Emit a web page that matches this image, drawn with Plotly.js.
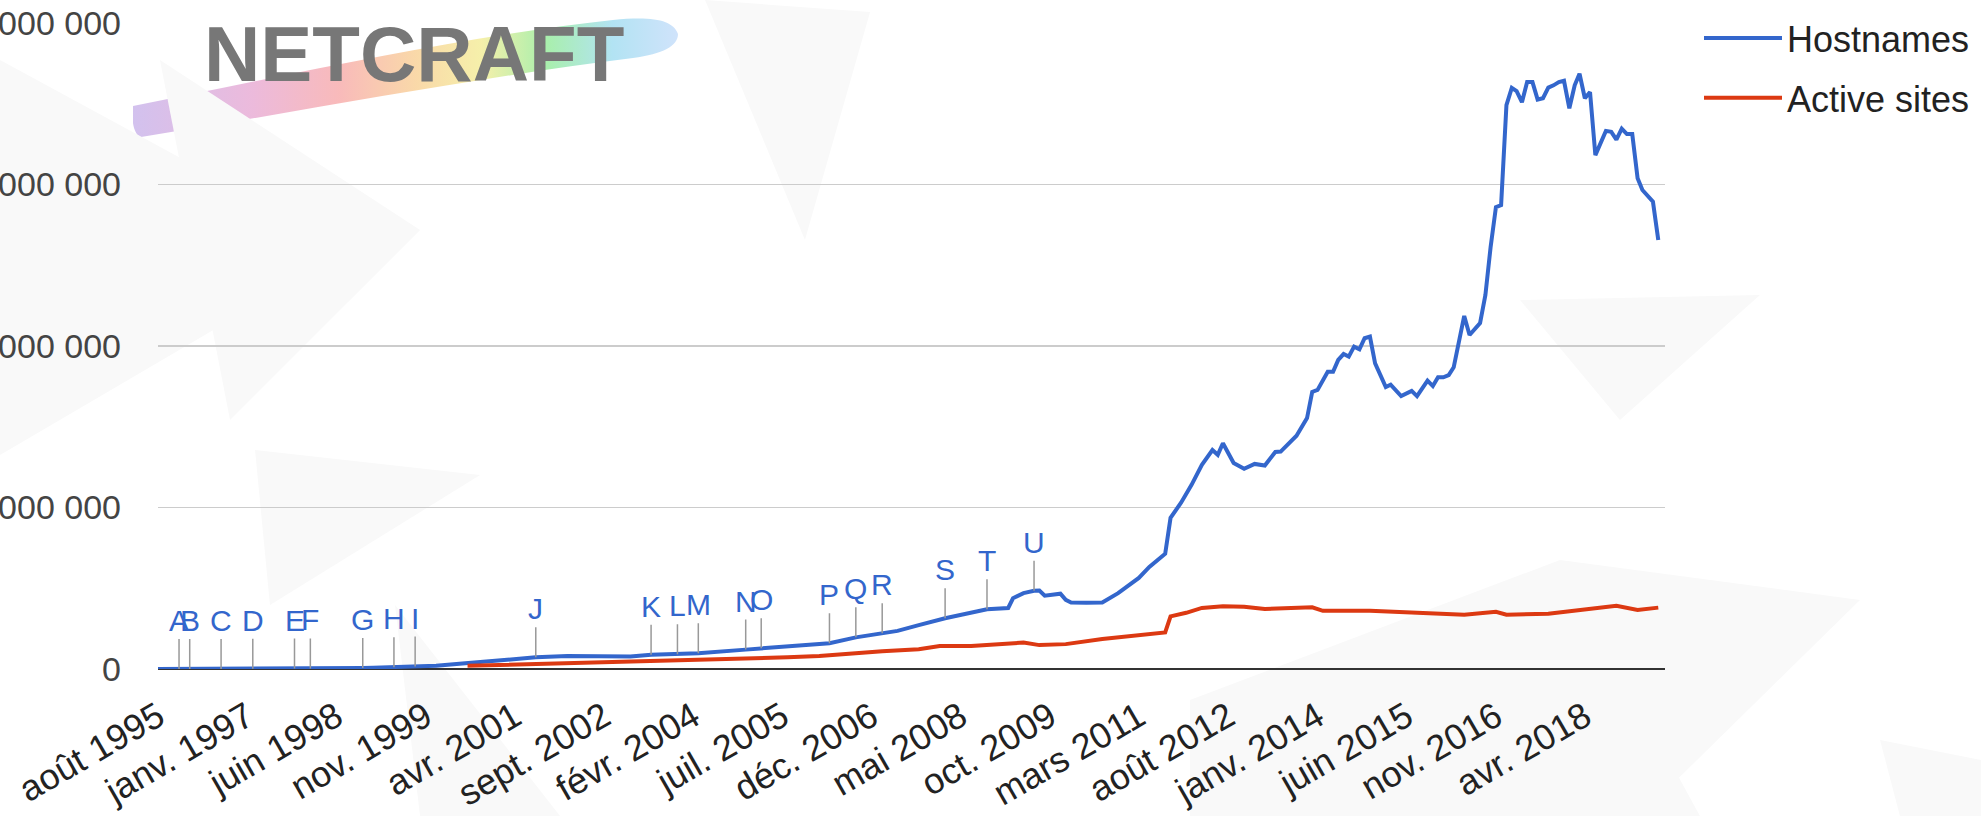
<!DOCTYPE html>
<html>
<head>
<meta charset="utf-8">
<script src="https://cdn.plot.ly/plotly-3.0.1.min.js"></script>
<style>
  html, body { margin: 0; padding: 0; background: #ffffff; }
  #chart { width: 1981px; height: 816px; }
</style>
</head>
<body>
<div id="chart"></div>
<script>
// ---------- DATA (values in millions) ----------
const hostDates = [
  '1995-08-01','1995-12-01','1996-01-01','1996-02-01','1996-08-01','1997-02-01','1997-08-01','1997-10-01',
  '1998-01-01','1998-08-01','1998-11-01','1999-01-01','1999-05-01','1999-08-01','1999-09-01','2000-01-01',
  '2000-06-01','2000-08-01','2001-02-01','2001-08-01','2002-02-01','2002-08-01','2003-02-01','2003-06-01',
  '2003-11-01','2004-03-01','2004-12-01','2005-03-01','2005-08-01','2006-02-01','2006-04-01','2006-09-01',
  '2007-02-01','2007-05-01','2007-09-01','2008-02-01','2008-10-01','2009-02-01','2009-03-01','2009-05-01',
  '2009-07-01','2009-08-01','2009-09-01','2009-11-01','2009-12-01','2010-01-01','2010-02-01','2010-05-01',
  '2010-08-01','2010-11-01','2011-01-01','2011-03-01','2011-05-01','2011-07-01','2011-08-01','2011-09-01',
  '2011-11-01','2012-01-01','2012-03-01','2012-05-01','2012-06-01','2012-07-01','2012-09-01','2012-11-01',
  '2013-01-01','2013-03-01','2013-05-01','2013-06-01','2013-09-01','2013-11-01','2013-12-01','2014-01-01',
  '2014-03-01','2014-04-01','2014-05-01','2014-06-01','2014-07-01','2014-08-01','2014-09-01','2014-10-01',
  '2014-11-01','2014-12-01','2015-02-01','2015-03-01','2015-05-01','2015-07-01','2015-08-01','2015-10-01',
  '2015-11-01','2015-12-01','2016-01-01','2016-02-01','2016-03-01','2016-05-01','2016-06-01','2016-08-01',
  '2016-09-01','2016-10-01','2016-11-01','2016-12-01','2017-01-01','2017-02-01','2017-03-01','2017-04-01',
  '2017-05-01','2017-06-01','2017-07-01','2017-08-01','2017-09-01','2017-10-01','2017-11-01','2017-12-01',
  '2018-01-01','2018-02-01','2018-03-01','2018-04-01','2018-05-01','2018-06-01','2018-07-01','2018-08-01',
  '2018-09-01','2018-10-01','2018-11-01','2018-12-01','2019-01-01','2019-02-01','2019-03-01','2019-04-01',
  '2019-05-01','2019-06-01'
];
const hostValues = [
  0.02, 0.07, 0.1, 0.15, 0.3, 0.7, 1.3, 1.4,
  1.8, 2.6, 3.3, 4.1, 5.5, 7, 7.5, 10,
  17, 20, 28, 36, 40, 41, 39, 44,
  46, 49, 60, 64, 72, 78, 80, 98,
  111, 118, 136, 157, 185, 189, 219, 235,
  242, 243, 227, 230, 233, 214, 206, 205,
  206, 235, 258, 282, 316, 344, 357, 468,
  515, 570, 632, 678, 663, 699, 638, 620,
  635, 630, 672, 673, 722, 777, 858, 864,
  920, 920, 957, 975, 967, 998, 990, 1024,
  1029, 946, 873, 880, 845, 861, 845, 893,
  876, 903, 903, 910, 934, 1093, 1034, 1071,
  1158, 1306, 1430, 1436, 1746, 1799, 1789, 1755,
  1817, 1817, 1763, 1767, 1800, 1807, 1817, 1821,
  1736, 1807, 1843, 1767, 1786, 1591, 1632, 1666,
  1663, 1639, 1673, 1656, 1656, 1519, 1483, 1464,
  1447, 1328
];
const activeDates = [
  '2000-07-01','2001-02-01','2001-08-01','2002-08-01','2003-02-01','2003-08-01','2004-08-01','2005-08-01',
  '2006-02-01','2006-09-01','2007-02-01','2007-09-01','2008-01-01','2008-07-01','2008-12-01','2009-05-01',
  '2009-08-01','2010-01-01','2010-08-01','2011-02-01','2011-08-01','2011-09-01','2011-12-01','2012-03-01',
  '2012-07-01','2012-11-01','2013-03-01','2013-12-01','2014-02-01','2014-11-01','2015-08-01','2016-05-01',
  '2016-11-01','2017-01-01','2017-09-01','2018-03-01','2018-08-01','2018-10-01','2019-02-01','2019-06-01'
];
const activeValues = [
  10, 13, 16, 19, 21, 24, 30, 36,
  40, 49, 55, 61, 71, 71, 77, 82,
  74, 77, 93, 104, 113, 163, 174, 189,
  194, 193, 186, 191, 180, 180, 173, 168,
  177, 168, 171, 182, 190, 196, 183, 190
];
const seriesNames = ['Hostnames', 'Active sites'];
const milestoneLetters = ['A','B','C','D','E','F','G','H','I','J','K','L','M','N','O','P','Q','R','S','T','U'];
const milestoneDates = [
  '1995-12-01','1996-02-01','1996-08-01','1997-02-01','1997-10-01','1998-01-01','1998-11-01','1999-05-01',
  '1999-09-01','2001-08-01','2003-06-01','2003-11-01','2004-03-01','2004-12-01','2005-03-01','2006-04-01',
  '2006-09-01','2007-02-01','2008-02-01','2008-10-01','2009-07-01'
];
const xTickDates = [
  '1995-08-01','1997-01-01','1998-06-01','1999-11-01','2001-04-01','2002-09-01','2004-02-01','2005-07-01',
  '2006-12-01','2008-05-01','2009-10-01','2011-03-01','2012-08-01','2014-01-01','2015-06-01','2016-11-01','2018-04-01'
];
const xTickLabels = [
  'août 1995','janv. 1997','juin 1998','nov. 1999','avr. 2001','sept. 2002','févr. 2004','juil. 2005',
  'déc. 2006','mai 2008','oct. 2009','mars 2011','août 2012','janv. 2014','juin 2015','nov. 2016','avr. 2018'
];
const yTickValues = [0, 500000000, 1000000000, 1500000000, 2000000000];

// ---------- LAYOUT HELPERS ----------
const FONT = 'Liberation Sans, Arial, sans-serif';
const M = {l: 158, r: 316, t: 23, b: 147, autoexpand: false};
const W = 1981, H = 816;
const PW = W - M.l - M.r, PH = H - M.t - M.b;
const px = x => (x - M.l) / PW;            // pixel -> paper x
const py = y => (H - M.b - y) / PH;        // pixel -> paper y

function polyPath(pts) {
  return 'M' + pts.map(p => px(p[0]).toFixed(4) + ',' + py(p[1]).toFixed(4)).join('L') + 'Z';
}
// faint watermark polygons (decoration)
const bgPolys = [
  [[0,60],[350,250],[0,455]],
  [[160,60],[420,230],[230,420]],
  [[705,0],[870,12],[805,240]],
  [[255,450],[480,475],[270,605]],
  [[395,605],[560,816],[420,816]],
  [[1190,700],[1560,560],[1700,816],[1190,816]],
  [[1560,560],[1860,600],[1640,816]],
  [[1520,300],[1760,295],[1620,420]],
  [[1880,740],[1981,760],[1981,816],[1900,816]]
];
const shapes = bgPolys.map(p => ({
  type: 'path', xref: 'paper', yref: 'paper', path: polyPath(p),
  fillcolor: '#f9f9f9', line: {width: 0}, layer: 'below'
}));

// rainbow brush of the logo
const brushSvg = '<svg xmlns="http://www.w3.org/2000/svg" width="545" height="125" viewBox="0 0 545 125">' +
  '<defs><linearGradient id="g" x1="0" y1="0" x2="1" y2="0">' +
  '<stop offset="0" stop-color="#c7b2ea"/><stop offset="0.22" stop-color="#e7a9d3"/>' +
  '<stop offset="0.38" stop-color="#f7a9a9"/><stop offset="0.52" stop-color="#f8cf93"/>' +
  '<stop offset="0.64" stop-color="#f3ec95"/><stop offset="0.76" stop-color="#93eb98"/>' +
  '<stop offset="0.88" stop-color="#9fdcf0"/><stop offset="1" stop-color="#c4dcfa"/></linearGradient></defs>' +
  '<path d="M0,92 C150,62 330,22 480,6 C520,2 540,6 545,20 C545,32 530,40 500,44 C340,64 170,97 8,123 C0,121 -2,102 0,92 Z" fill="url(#g)" opacity="0.8"/>' +
  '</svg>';
const brushUri = 'data:image/svg+xml;charset=utf-8,' + encodeURIComponent(brushSvg);

// ---------- TRACES ----------
const traces = [
  {
    type: 'scatter', mode: 'lines', name: seriesNames[0], legendgroup: 'a',
    x: hostDates, y: hostValues.map(v => v * 1e6),
    line: {color: '#3366cc', width: 4}
  },
  {
    type: 'scatter', mode: 'lines', name: seriesNames[1], legendgroup: 'b',
    x: activeDates, y: activeValues.map(v => v * 1e6),
    line: {color: '#dc3912', width: 4}
  }
];

// milestone annotations attached to the Hostnames series
const annotations = milestoneLetters.map((t, i) => {
  const idx = hostDates.indexOf(milestoneDates[i]);
  return {
    x: milestoneDates[i], y: hostValues[idx] * 1e6, xref: 'x', yref: 'y',
    text: t, showarrow: true, arrowhead: 0, arrowwidth: 1.5, arrowcolor: '#999999',
    ax: 0, ay: -30, standoff: 0, yanchor: 'bottom',
    font: {family: FONT, size: 30, color: '#3366cc'}
  };
});
annotations.push({
  xref: 'paper', yref: 'paper', x: px(414), y: py(54), xanchor: 'center', yanchor: 'middle',
  text: '<b>NETCRAFT</b>', showarrow: false,
  font: {family: FONT, size: 78, color: '#777777'}
});

const layout = {
  width: W, height: H,
  margin: M,
  paper_bgcolor: '#ffffff', plot_bgcolor: 'rgba(0,0,0,0)',
  separators: ', ',
  font: {family: FONT, color: '#222222'},
  showlegend: true,
  legend: {
    x: px(1699), y: 1.023, xanchor: 'left', yanchor: 'top',
    font: {family: FONT, size: 36, color: '#222222'},
    bgcolor: 'rgba(0,0,0,0)', tracegroupgap: 10, itemwidth: 78
  },
  xaxis: {
    type: 'date',
    range: ['1995-08-01', '2019-07-10'],
    tickmode: 'array', tickvals: xTickDates, ticktext: xTickLabels,
    tickangle: -30, tickfont: {family: FONT, size: 36, color: '#222222'},
    showgrid: false, zeroline: false, showline: false, ticks: '',
    ticklabelstandoff: 19
  },
  yaxis: {
    range: [0, 2000000000],
    tickmode: 'array', tickvals: yTickValues, tickformat: ',.0f',
    tickfont: {family: FONT, size: 34, color: '#444444'},
    showgrid: true, gridcolor: '#cccccc', gridwidth: 1.5,
    zeroline: true, zerolinecolor: '#333333', zerolinewidth: 2,
    showline: false, ticks: '', ticklabelstandoff: 36
  },
  shapes: shapes,
  images: [{
    source: brushUri, xref: 'paper', yref: 'paper',
    x: px(133), y: py(14), sizex: px(678) - px(133), sizey: py(14) - py(139),
    xanchor: 'left', yanchor: 'top', sizing: 'stretch', layer: 'below', opacity: 1
  }],
  annotations: annotations
};

Plotly.newPlot('chart', traces, layout, {displayModeBar: false, staticPlot: true});
</script>
</body>
</html>
